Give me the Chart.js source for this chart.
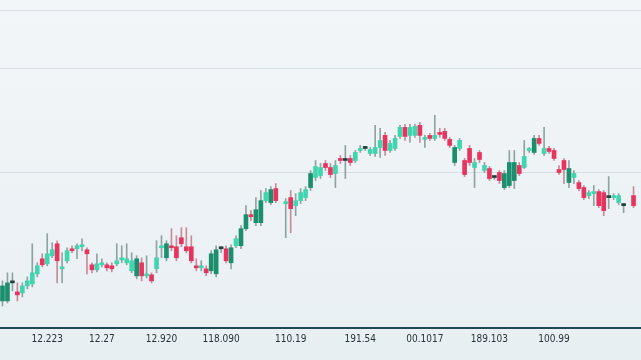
<!DOCTYPE html>
<html>
<head>
<meta charset="utf-8">
<script src="https://cdn.jsdelivr.net/npm/chart.js@4.4.1/dist/chart.umd.min.js"></script>
<style>
  html, body { margin: 0; padding: 0; background: #eef3f6; }
  #wrap { width: 641px; height: 360px; position: relative; background: linear-gradient(#f3f6f8, #e8eff3); }
</style>
</head>
<body>
<div id="wrap"><canvas id="myChart"></canvas></div>
<script>
// candle values (null = empty slot)
var opens  = [30,30,48,39,38,45,47,57,72,67,75,87,62,70,82,82,84,81,66,61,66,66,65,67,71,68,60,55,68,55,
              56,62,83,73,85,84,93,84,84,65,63,62,60,57,82,82,68,85,85,102,116,108,108,130,128,142,null,127,133,125,
              130,133,143,153,155,167,163,157,172,170,172,170,180,182,177,177,183,195,180,182,194,203,195,195,205,191,195,192,198,199,
              191,168,182,170,182,163,178,160,162,153,158,143,145,150,165,163,180,178,192,177,182,180,161,170,148,153,148,143,135,137,
              139,138,133,133,128,125,null,135,null];
var closes = [45,48,48,36,45,50,58,65,66,77,81,70,64,80,80,85,86,77,61,67,68,63,62,70,73,72,70,72,55,56,
              50,73,85,87,83,73,87,80,70,63,65,58,77,81,82,70,83,92,102,116,114,121,130,138,141,130,null,129,122,130,
              138,141,157,164,163,163,156,165,170,170,168,178,182,182,181,183,190,180,187,192,203,194,203,204,195,193,192,195,196,192,
              185,183,190,156,168,168,171,165,152,153,150,157,168,168,157,174,181,192,187,182,179,172,158,161,162,157,142,133,138,139,
              125,120,133,135,135,125,null,125,null];
var highs  = [50,58,58,48,48,54,87,68,77,97,88,90,78,83,85,87,92,83,68,77,72,68,68,87,85,87,78,75,73,75,
              58,90,95,90,102,95,103,103,95,72,70,65,80,85,84,85,86,95,105,125,120,133,140,142,144,147,null,132,140,137,
              142,144,160,170,167,170,167,170,175,185,175,180,185,184,183,205,202,198,190,195,205,206,206,206,208,195,197,215,202,202,
              193,185,192,172,185,172,180,168,164,155,160,160,180,180,168,190,183,195,195,203,184,182,165,172,170,160,150,145,140,145,
              141,140,154,137,137,127,null,144,null];
var lows   = [25,28,40,30,34,42,44,54,64,65,73,48,48,68,78,72,80,57,58,59,64,60,59,65,68,66,58,52,50,53,
              48,58,73,70,80,70,84,78,68,60,60,55,57,54,78,68,62,83,82,100,110,105,105,128,126,128,null,93,98,115,
              127,130,140,150,152,160,153,143,167,152,165,168,178,180,175,174,173,175,178,180,192,190,188,193,188,183,190,190,193,190,
              183,165,180,154,165,143,168,158,150,151,147,141,143,142,155,162,178,176,185,175,177,170,156,147,143,147,140,131,132,125,
              123,115,122,131,126,118,null,123,null];

// x axis tick labels and the candle slot each one sits under
var tickLabels = ['12.223', '12.27', '12.920', '118.090', '110.19', '191.54', '00.1017', '189.103', '100.99'];
var tickSlots  = [9, 20, 32, 44, 58, 72, 85, 98, 111];

// faint horizontal guide levels
var gridLevels = [158, 262, 320];

var categories = opens.map(function(v, i) {
    var k = tickSlots.indexOf(i);
    return k > -1 ? tickLabels[k] : '';
});

var bodyColor = function(ctx) {
    var i = ctx.dataIndex;
    var o = opens[i], c = closes[i];
    if (o === null) return 'transparent';
    if (Math.abs(c - o) < 1) return '#1f3f3a';
    if (c < o) return '#e7345e';
    return (c - o) >= 12 ? '#1b8e6e' : '#3fd5ae';
};

var wickColor = function(ctx) {
    var i = ctx.dataIndex;
    if (opens[i] === null) return 'transparent';
    return closes[i] < opens[i] ? '#c98a99' : '#8fa3a1';
};

var ctx = document.getElementById('myChart');
var myChart = new Chart(ctx, {
    type: 'bar',
    data: {
        labels: categories,
        datasets: [{
            label: 'wick',
            data: lows.map(function(l, i) { return l === null ? null : [l, highs[i]]; }),
            backgroundColor: wickColor,
            barThickness: 1,
            grouped: false,
            order: 2
        }, {
            label: 'body',
            data: opens.map(function(o, i) { return o === null ? null : [o, closes[i]]; }),
            backgroundColor: bodyColor,
            barThickness: 4,
            minBarLength: 2,
            grouped: false,
            order: 1
        }]
    },
    options: {
        responsive: true,
        maintainAspectRatio: false,
        animation: false,
        layout: { padding: { left: 0, right: 0, top: 0, bottom: 18 } },
        plugins: {
            legend: { display: false },
            tooltip: { enabled: false }
        },
        scales: {
            x: {
                grid: { display: false },
                border: { display: true, color: '#1d4a55', width: 2 },
                ticks: {
                    autoSkip: false,
                    maxRotation: 0,
                    padding: -3,
                    color: '#26353b',
                    font: { family: "'Liberation Sans Narrow', 'DejaVu Sans Condensed', 'Roboto Condensed', 'Roboto', sans-serif", size: 10 }
                }
            },
            y: {
                min: 3,
                max: 330,
                afterBuildTicks: function(scale) {
                    scale.ticks = gridLevels.map(function(v) { return { value: v }; });
                },
                grid: { color: 'rgba(150,172,182,0.28)', drawTicks: false },
                border: { display: false },
                ticks: { display: false }
            }
        }
    }
});
</script>
</body>
</html>
